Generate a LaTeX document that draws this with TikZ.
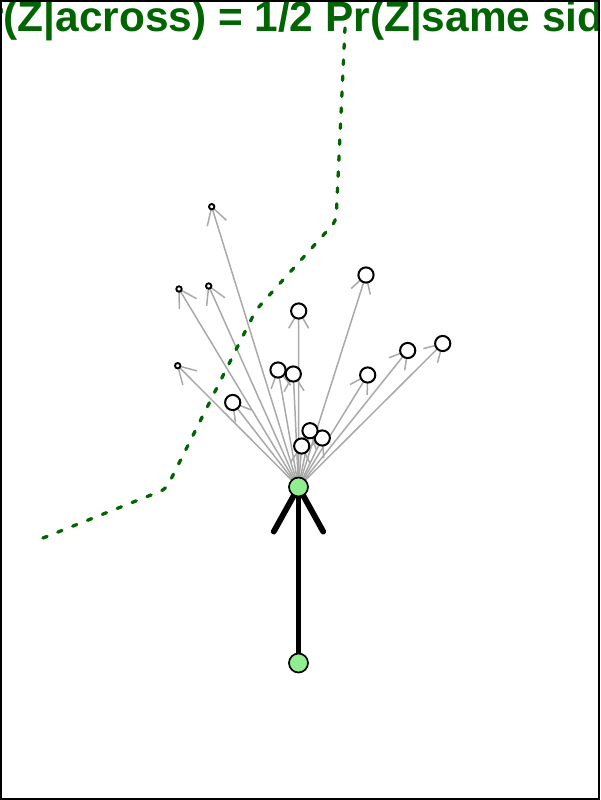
\documentclass[tikz,border=0pt]{standalone}
\usepackage{fontspec}
\setmainfont{Liberation Sans}
\usetikzlibrary{calc}
\definecolor{dgreen}{HTML}{006400}
\definecolor{lgreen}{HTML}{90EE90}
\definecolor{edgegray}{HTML}{A9A9A9}
\pgfdeclarelayer{edgelayer}
\pgfsetlayers{edgelayer,main}
\tikzset{
  vsmall/.style={circle, draw=black, fill=white, line width=1.9pt, inner sep=0pt, minimum size=5.4pt},
  vbig/.style={circle, draw=black, fill=white, line width=2pt, inner sep=0pt, minimum size=15.2pt},
  vgreen/.style={circle, draw=black, fill=lgreen, line width=1.7pt, inner sep=0pt, minimum size=19pt},
  gedge/.style={draw=edgegray, line width=1.5pt},
  bigedge/.style={draw=black, line width=5.8pt, line cap=round, line join=round},
  boundary/.style={draw=dgreen, line width=3.3pt, line cap=round, dash pattern=on 4.5pt off 11.5pt, rounded corners=6pt},
  titlestyle/.style={anchor=base, text=dgreen, inner sep=0pt, font=\bfseries\fontsize{42.4}{50}\selectfont}
}
\newcommand\garrow[2]{%
  \draw[gedge] (#1.center) -- (#2.center);
  \draw[gedge] ($(#2.center)!20pt!30:(#1.center)$) -- (#2.center) -- ($(#2.center)!20pt!-30:(#1.center)$);
}
\begin{document}
\begin{tikzpicture}[x=1pt, y=-1pt]
\useasboundingbox (0,0) rectangle (600,800);
\clip (0,0) rectangle (600,800);
% boundary
\draw[boundary] (345,28) -- (336,221) -- (256,310) -- (166,489) -- (33,542);
% vertices
\node[vsmall] (s1) at (211.7,206.7) {};
\node[vsmall] (s2) at (179,289) {};
\node[vsmall] (s3) at (208.7,286) {};
\node[vsmall] (s4) at (177.7,365.7) {};
\node[vbig] (b1) at (366,275) {};
\node[vbig] (b2) at (298.7,311) {};
\node[vbig] (b3) at (407.7,350.5) {};
\node[vbig] (b4) at (442.7,343.5) {};
\node[vbig] (b5) at (367.7,375) {};
\node[vbig] (b6) at (278,370) {};
\node[vbig] (b7) at (293.3,374) {};
\node[vbig] (b8) at (232.7,402.5) {};
\node[vbig] (b10) at (322.3,438) {};
\node[vbig] (b9) at (310,430.7) {};
\node[vbig] (b11) at (301.7,446) {};
\node[vgreen] (g1) at (298.5,487) {};
\node[vgreen] (g0) at (298.5,663) {};
\begin{pgfonlayer}{edgelayer}
\foreach \t in {s1,s2,s3,s4,b1,b2,b3,b4,b5,b6,b7,b8,b9,b10,b11} {\garrow{g1}{\t}}
\draw[bigedge] (g0.center) -- (g1.center);
\draw[bigedge] ($(g1.center)!51pt!29:(g0.center)$) -- (g1.center) -- ($(g1.center)!51pt!-29:(g0.center)$);
\end{pgfonlayer}
% title
\node[titlestyle] (title) at (300,32) {Pr(Z|across) = 1/2 Pr(Z|same side)};
% frame
\draw[line width=2.2pt] (1,1) rectangle (599,799);
\end{tikzpicture}
\end{document}
